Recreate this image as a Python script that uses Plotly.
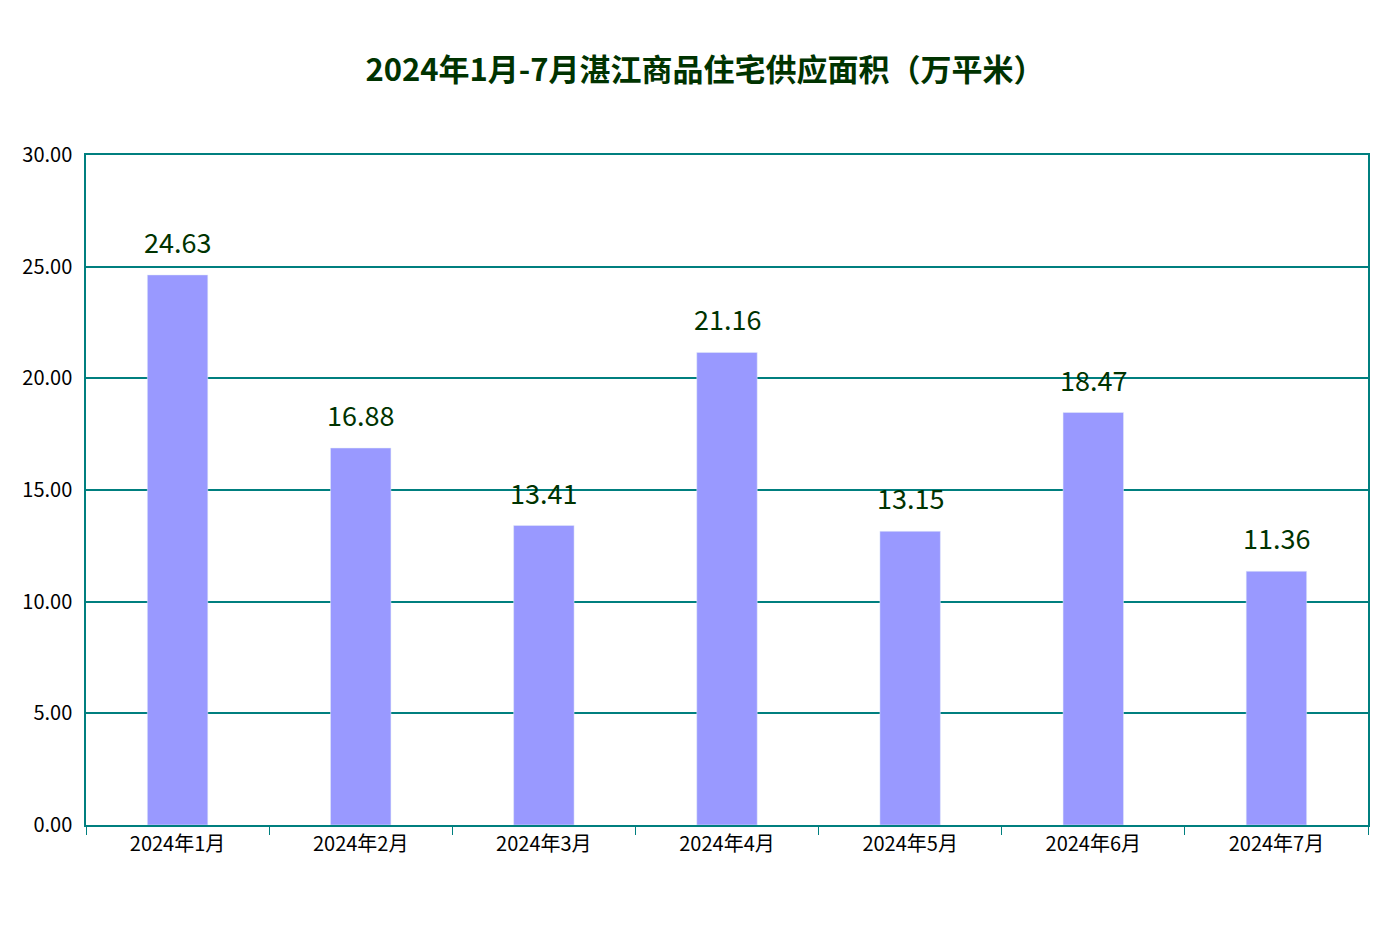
import plotly.graph_objects as go

months = ["2024年1月", "2024年2月", "2024年3月", "2024年4月", "2024年5月", "2024年6月", "2024年7月"]
supply_area = [24.63, 16.88, 13.41, 21.16, 13.15, 18.47, 11.36]

axis_color = "#007f7f"
font_family = "Noto Sans CJK SC, Noto Sans, sans-serif"

fig = go.Figure(go.Bar(
    x=months,
    y=supply_area,
    marker_color="#9999ff",
    width=0.33,
))

# value labels sit a bit above each bar
for m, v in zip(months, supply_area):
    fig.add_annotation(x=m, y=v, text=f"{v:.2f}", showarrow=False,
                       yanchor="bottom", yshift=12,
                       font=dict(size=27, color="#003300", family=font_family))

fig.update_layout(
    title=dict(text="<b>2024年1月-7月湛江商品住宅供应面积（万平米）</b>",
               x=0.5, y=0.945, xanchor="center",
               font=dict(size=31, color="#003300", family=font_family)),
    font=dict(family=font_family, color="#000000"),
    width=1394, height=939,
    plot_bgcolor="white", paper_bgcolor="white",
    margin=dict(l=78, r=34, t=147, b=122),
    showlegend=False,
)
fig.update_xaxes(showline=True, linecolor=axis_color, mirror=True, linewidth=1.5,
                 ticks="outside", tickcolor=axis_color, ticklen=8,
                 tickson="boundaries", tickfont=dict(size=20))
fig.update_yaxes(range=[0, 30], dtick=5, tickformat=".2f",
                 showline=True, linecolor=axis_color, mirror=True, linewidth=1.5,
                 gridcolor=axis_color, gridwidth=1.5, zeroline=False,
                 ticklabelstandoff=8, tickfont=dict(size=20))

fig.write_html("out.html")
